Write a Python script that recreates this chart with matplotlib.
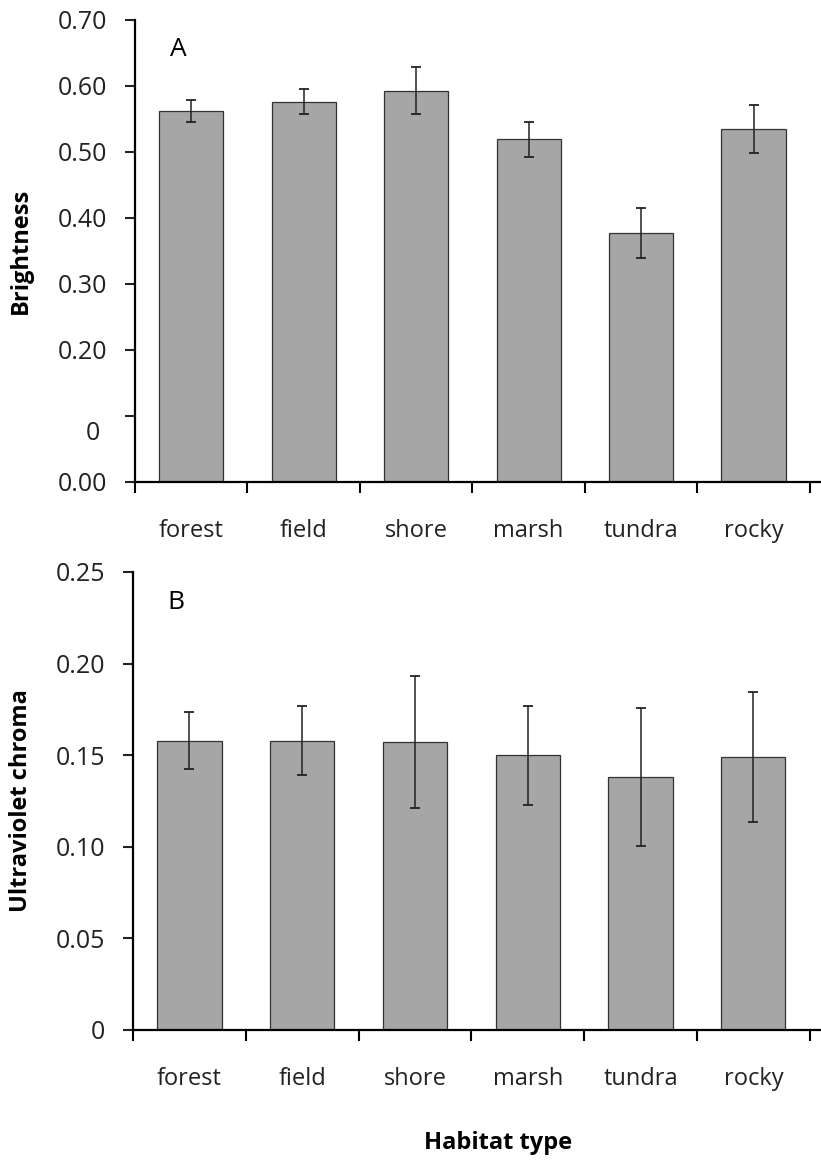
import numpy as np
import matplotlib
matplotlib.use("Agg")
import matplotlib.pyplot as plt
import matplotlib.transforms as mtransforms

plt.rcParams['font.family'] = ['Open Sans', 'DejaVu Sans']

# datos
habitats = ['forest', 'field', 'shore', 'marsh', 'tundra', 'rocky']
brightness = [0.562, 0.576, 0.593, 0.519, 0.377, 0.535]
brightness_err = [0.016, 0.019, 0.036, 0.026, 0.038, 0.036]
uv_chroma = [0.158, 0.158, 0.157, 0.150, 0.138, 0.149]
uv_err = [0.0155, 0.019, 0.036, 0.027, 0.0375, 0.0355]

top_ticks = [0.0, 0.1, 0.2, 0.3, 0.4, 0.5, 0.6, 0.7]
top_labels = ['0.00', '', '0.20', '0.30', '0.40', '0.50', '0.60', '0.70']
bot_ticks = [0.0, 0.05, 0.10, 0.15, 0.20, 0.25]
bot_labels = ['0', '0.05', '0.10', '0.15', '0.20', '0.25']

fig = plt.figure(figsize=(8.21, 11.6), dpi=100)
ax1 = fig.add_axes([0.1644, 0.5845, 0.8356, 0.3983])
ax2 = fig.add_axes([0.162, 0.1121, 0.838, 0.3948])

x = np.arange(len(habitats))
gris = '#a6a6a6'
texto = '#222222'


def dibujar(ax, vals, errs, ticks, labels, ylim, ylabel, letra, x_lab, y_letra):
    ax.bar(x, vals, width=0.57, color=gris, edgecolor='#333333', linewidth=0.9)
    ax.errorbar(x, vals, yerr=errs, fmt='none', ecolor=texto,
                elinewidth=1.1, capsize=3.5, capthick=1.3)
    ax.set_xlim(-0.5, 5.6)
    ax.set_ylim(*ylim)
    ax.set_yticks(ticks)
    ax.set_yticklabels(labels)
    ax.set_xticks(np.arange(-0.5, 6.0, 1.0))
    ax.set_xticklabels([])
    ax.set_xticks(x, minor=True)
    ax.set_xticklabels(habitats, minor=True)
    ax.tick_params(axis='x', which='minor', length=0, pad=27, labelsize=17, colors=texto)
    ax.tick_params(axis='x', which='major', direction='out', length=8, width=1.5)
    ax.tick_params(axis='y', direction='out', length=7, width=1.5, labelsize=18,
                   colors=texto, pad=13)
    for s in ['top', 'right']:
        ax.spines[s].set_visible(False)
    for s in ['left', 'bottom']:
        ax.spines[s].set_linewidth(1.6)
    ax.set_ylabel(ylabel, fontsize=17, fontweight='bold')
    ax.yaxis.set_label_coords(x_lab, 0.5)
    ax.text(0.063, y_letra, letra, transform=ax.transAxes, fontsize=19,
            ha='center', va='center')


dibujar(ax1, brightness, brightness_err, top_ticks, top_labels, (0, 0.7),
        'Brightness', 'A', -0.149, 0.935)
dibujar(ax2, uv_chroma, uv_err, bot_ticks, bot_labels, (0, 0.25),
        'Ultraviolet chroma', 'B', -0.145, 0.934)

# "0" suelto en el eje del panel A
trans = mtransforms.blended_transform_factory(fig.transFigure, ax1.transData)
ax1.text(93 / 821, 0.074, '0', transform=trans, fontsize=18, color=texto,
         ha='center', va='center')

fig.text(498 / 821, 1 - 1143 / 1160, 'Habitat type', fontsize=17, fontweight='bold',
         ha='center', va='center')

plt.savefig('out.png', dpi=100)
